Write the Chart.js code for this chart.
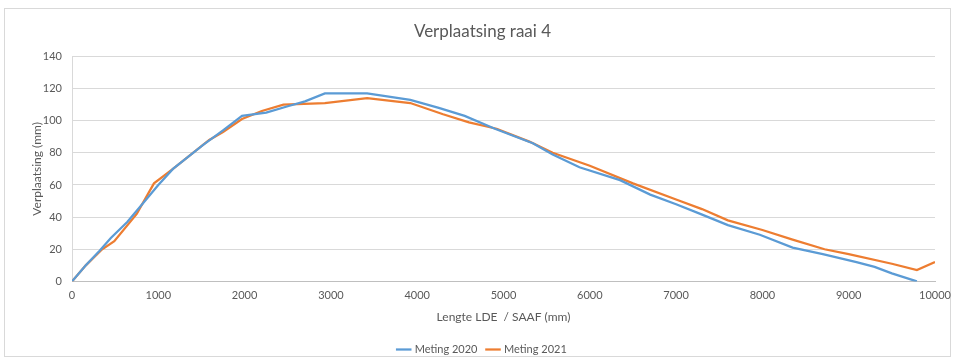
<!DOCTYPE html>
<html>
<head>
<meta charset="utf-8">
<script src="https://cdn.jsdelivr.net/npm/chart.js@4.4.1/dist/chart.umd.min.js"></script>
<style>
  html, body { margin: 0; padding: 0; background: #ffffff; }
  #wrap { position: relative; width: 955px; height: 362px; }
</style>
</head>
<body>
<div id="wrap"><canvas id="c" width="955" height="362"></canvas></div>
<script>
const chartTitle = "Verplaatsing raai 4";
const xTitle = "Lengte LDE  / SAAF (mm)";
const yTitle = "Verplaatsing (mm)";
const seriesNames = ["Meting 2020", "Meting 2021"];

const dist2020 = [0, 160, 320, 450, 640, 750, 1000, 1170, 1520, 1750, 1970, 2250, 2500, 2700, 2930, 3420, 3920, 4250, 4550, 4900, 5340, 5570, 5880, 6350, 6700, 7000, 7280, 7600, 7970, 8350, 8700, 9090, 9300, 9500, 9790];
const val2020  = [0, 10, 19, 27, 37, 44, 60, 70, 85, 94, 103, 105, 109, 112, 117, 117, 113, 108, 103, 95, 86, 79, 71, 63, 54, 48, 42, 35, 29, 21, 17, 12, 9, 5, 0];

const dist2021 = [0, 160, 350, 490, 750, 950, 1170, 1590, 1750, 1970, 2200, 2450, 2930, 3420, 3920, 4300, 4600, 4920, 5300, 5570, 6000, 6500, 7000, 7300, 7600, 8000, 8350, 8720, 9000, 9500, 9790, 10000];
const val2021  = [0, 10, 20, 25, 42, 61, 70, 88, 93, 101, 106, 110, 111, 114, 111, 104, 99, 95, 87, 80, 72, 61, 51, 45, 38, 32, 26, 20, 17, 11, 7, 12];

const toPoints = (xs, ys) => xs.map((x, i) => ({ x: x, y: ys[i] }));

const frame = {
  id: 'frame',
  beforeDraw(chart) {
    const ctx = chart.ctx;
    ctx.save();
    ctx.fillStyle = '#ffffff';
    ctx.fillRect(0, 0, chart.width, chart.height);
    ctx.strokeStyle = '#d9d9d9';
    ctx.lineWidth = 1;
    ctx.strokeRect(4.5, 8.5, 946, 348);
    ctx.restore();
  }
};

const legendShift = {
  id: 'legendShift',
  afterLayout(chart) {
    const lg = chart.legend;
    if (lg) { lg.top += 3; lg.bottom += 3; }
  }
};

const FONT = "Lato, 'Liberation Sans', sans-serif";
const GREY = '#595959';

new Chart(document.getElementById('c'), {
  type: 'line',
  data: {
    datasets: [
      { label: seriesNames[0], data: toPoints(dist2020, val2020), borderColor: '#5B9BD5', backgroundColor: '#5B9BD5', borderWidth: 2.25, pointRadius: 0, tension: 0, fill: false },
      { label: seriesNames[1], data: toPoints(dist2021, val2021), borderColor: '#ED7D31', backgroundColor: '#ED7D31', borderWidth: 2.25, pointRadius: 0, tension: 0, fill: false }
    ]
  },
  options: {
    responsive: false,
    animation: false,
    layout: { padding: { left: 30, right: 20, top: 14, bottom: 0 } },
    plugins: {
      title: { display: true, text: chartTitle, color: GREY, font: { family: FONT, size: 17, weight: 'normal' }, padding: { top: 7, bottom: 15 } },
      legend: {
        position: 'bottom',
        labels: { color: GREY, font: { family: FONT, size: 11 }, usePointStyle: true, pointStyle: 'line', boxWidth: 24, padding: 10 }
      },
      tooltip: { enabled: false }
    },
    scales: {
      x: {
        type: 'linear', min: 0, max: 10000,
        afterFit: (s) => { s.paddingRight = 8; },
        ticks: { stepSize: 1000, color: GREY, font: { family: FONT, size: 11 }, padding: 7, maxRotation: 0, callback: (v) => String(v) },
        grid: { display: false, drawTicks: false },
        border: { display: true, color: '#bfbfbf', width: 1 },
        title: { display: true, text: xTitle, color: GREY, font: { family: FONT, size: 12 }, padding: { top: 1, bottom: 7 } }
      },
      y: {
        min: 0, max: 140,
        afterFit: (s) => { s.width = 42; },
        ticks: { stepSize: 20, color: GREY, font: { family: FONT, size: 11 }, padding: 10 },
        grid: { color: '#d9d9d9', drawTicks: false },
        border: { display: true, color: '#d9d9d9' },
        title: { display: true, text: yTitle, color: GREY, font: { family: FONT, size: 12 }, padding: { top: 0, bottom: 4 } }
      }
    }
  },
  plugins: [frame, legendShift]
});
</script>
</body>
</html>
